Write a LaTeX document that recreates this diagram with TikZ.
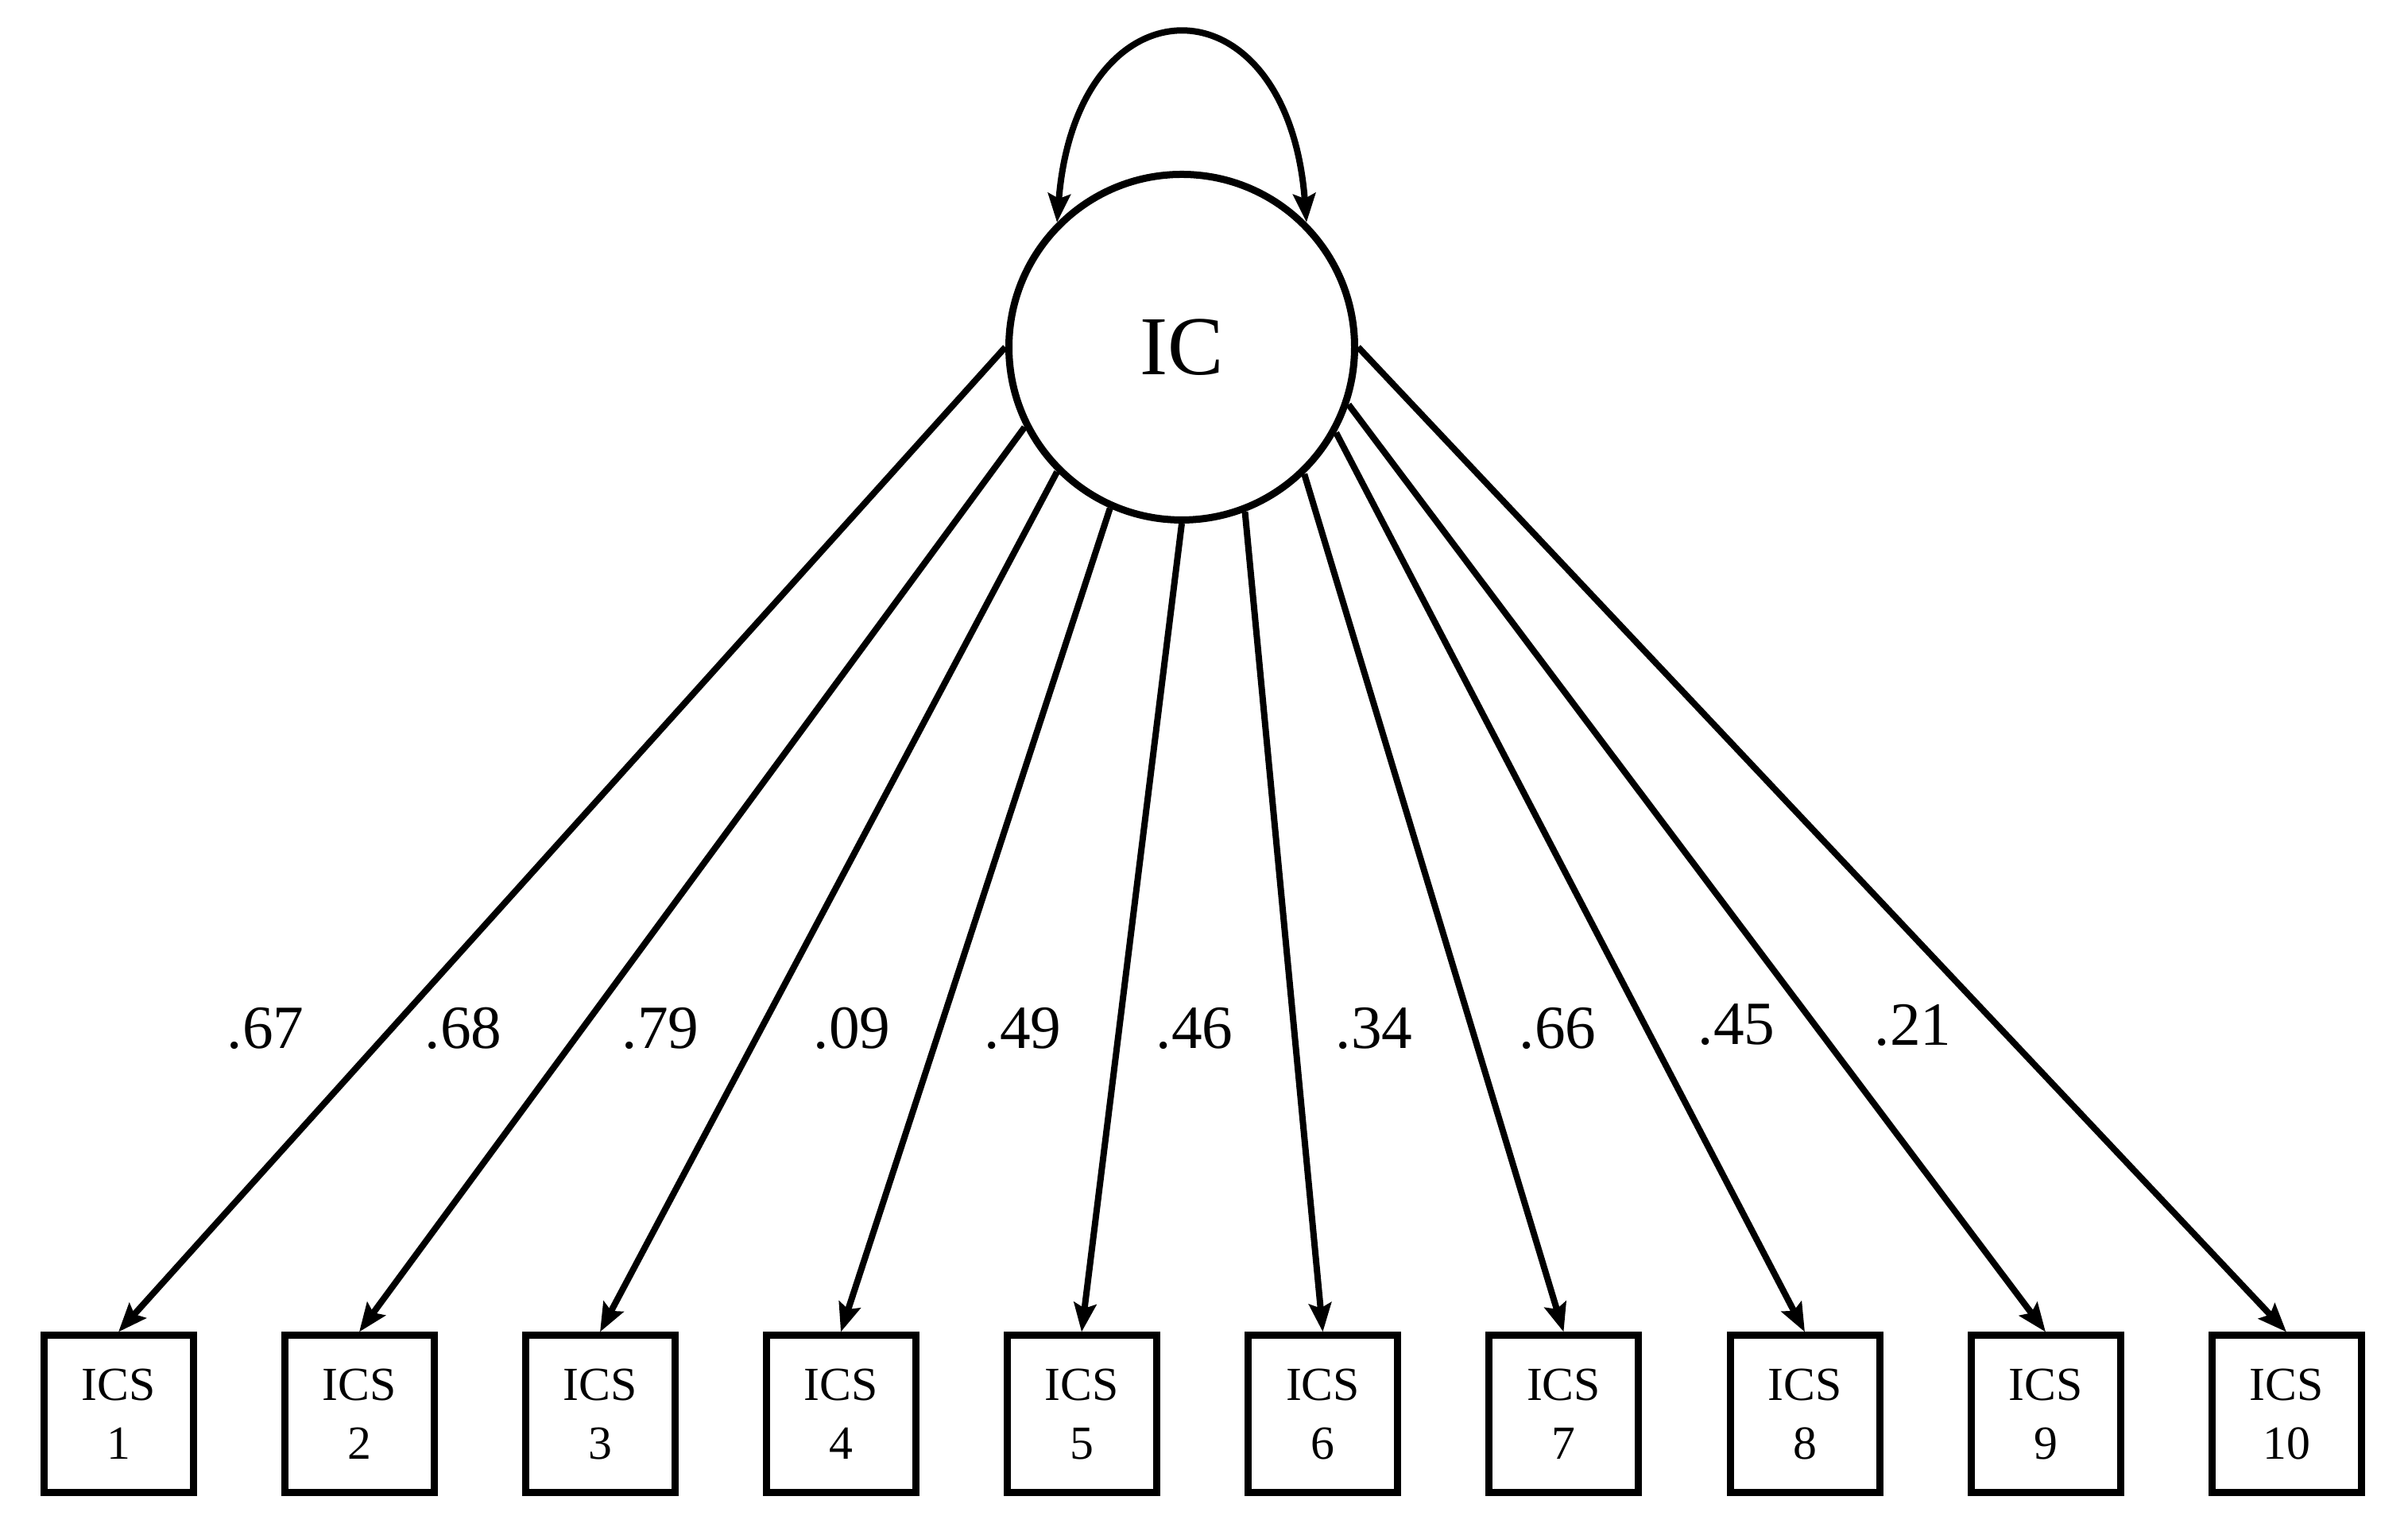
\documentclass[tikz,border=0pt]{standalone}
\usepackage{fontspec}
\setmainfont{Liberation Serif}
\usetikzlibrary{arrows.meta}

\begin{document}
\begin{tikzpicture}
\tikzstyle{every node}=[inner sep=0pt]
\tikzstyle{latent}=[circle, draw, line width=0.09cm, minimum size=4.35cm, font=\fontsize{30}{36}\selectfont]
\tikzstyle{item}=[rectangle, draw, line width=0.09cm, minimum width=1.88cm, minimum height=1.98cm, align=center, font=\fontsize{17}{21}\selectfont]
\tikzstyle{loading}=[font=\fontsize{22}{26}\selectfont]
\tikzstyle{load}=[line width=0.08cm, -{Stealth[length=0.36cm, width=0.28cm, inset=0.06cm]}]
\useasboundingbox (0,0) rectangle (30.30,19.32);
\draw (14.87,14.95) node (ic) [latent] {IC};
\draw (1.49,1.52) node (ics1) [item] {ICS\\1};
\draw (4.52,1.52) node (ics2) [item] {ICS\\2};
\draw (7.55,1.52) node (ics3) [item] {ICS\\3};
\draw (10.58,1.52) node (ics4) [item] {ICS\\4};
\draw (13.61,1.52) node (ics5) [item] {ICS\\5};
\draw (16.645,1.52) node (ics6) [item] {ICS\\6};
\draw (19.675,1.52) node (ics7) [item] {ICS\\7};
\draw (22.71,1.52) node (ics8) [item] {ICS\\8};
\draw (25.74,1.52) node (ics9) [item] {ICS\\9};
\draw (28.77,1.52) node (ics10) [item] {ICS\\10};
% variance
\draw [line width=0.08cm, {Stealth[length=0.36cm, width=0.28cm, inset=0.06cm]}-{Stealth[length=0.36cm, width=0.28cm, inset=0.06cm]}]
  (ic.135) .. controls (13.55,19.65) and (16.2,19.65) .. (ic.45);
% loadings
\draw [load] (ic.180) -- (ics1.north);
\draw [load] (ic.207) -- (ics2.north);
\draw [load] (ic.225) -- (ics3.north);
\draw [load] (ic.246) -- (ics4.north);
\draw [load] (ic.270) -- (ics5.north);
\draw [load] (ic.291) -- (ics6.north);
\draw [load] (ic.314) -- (ics7.north);
\draw [load] (ic.331) -- (ics8.north);
\draw [load] (ic.341) -- (ics9.north);
\draw [load] (ic.0) -- (ics10.north);
\draw (3.34,6.38) node (l1) [loading] {.67};
\draw (5.83,6.38) node (l2) [loading] {.68};
\draw (8.31,6.38) node (l3) [loading] {.79};
\draw (10.72,6.38) node (l4) [loading] {.09};
\draw (12.87,6.38) node (l5) [loading] {.49};
\draw (15.03,6.38) node (l6) [loading] {.46};
\draw (17.29,6.38) node (l7) [loading] {.34};
\draw (19.60,6.38) node (l8) [loading] {.66};
\draw (21.85,6.42) node (l9) [loading] {.45};
\draw (24.07,6.42) node (l10) [loading] {.21};
\end{tikzpicture}
\end{document}
